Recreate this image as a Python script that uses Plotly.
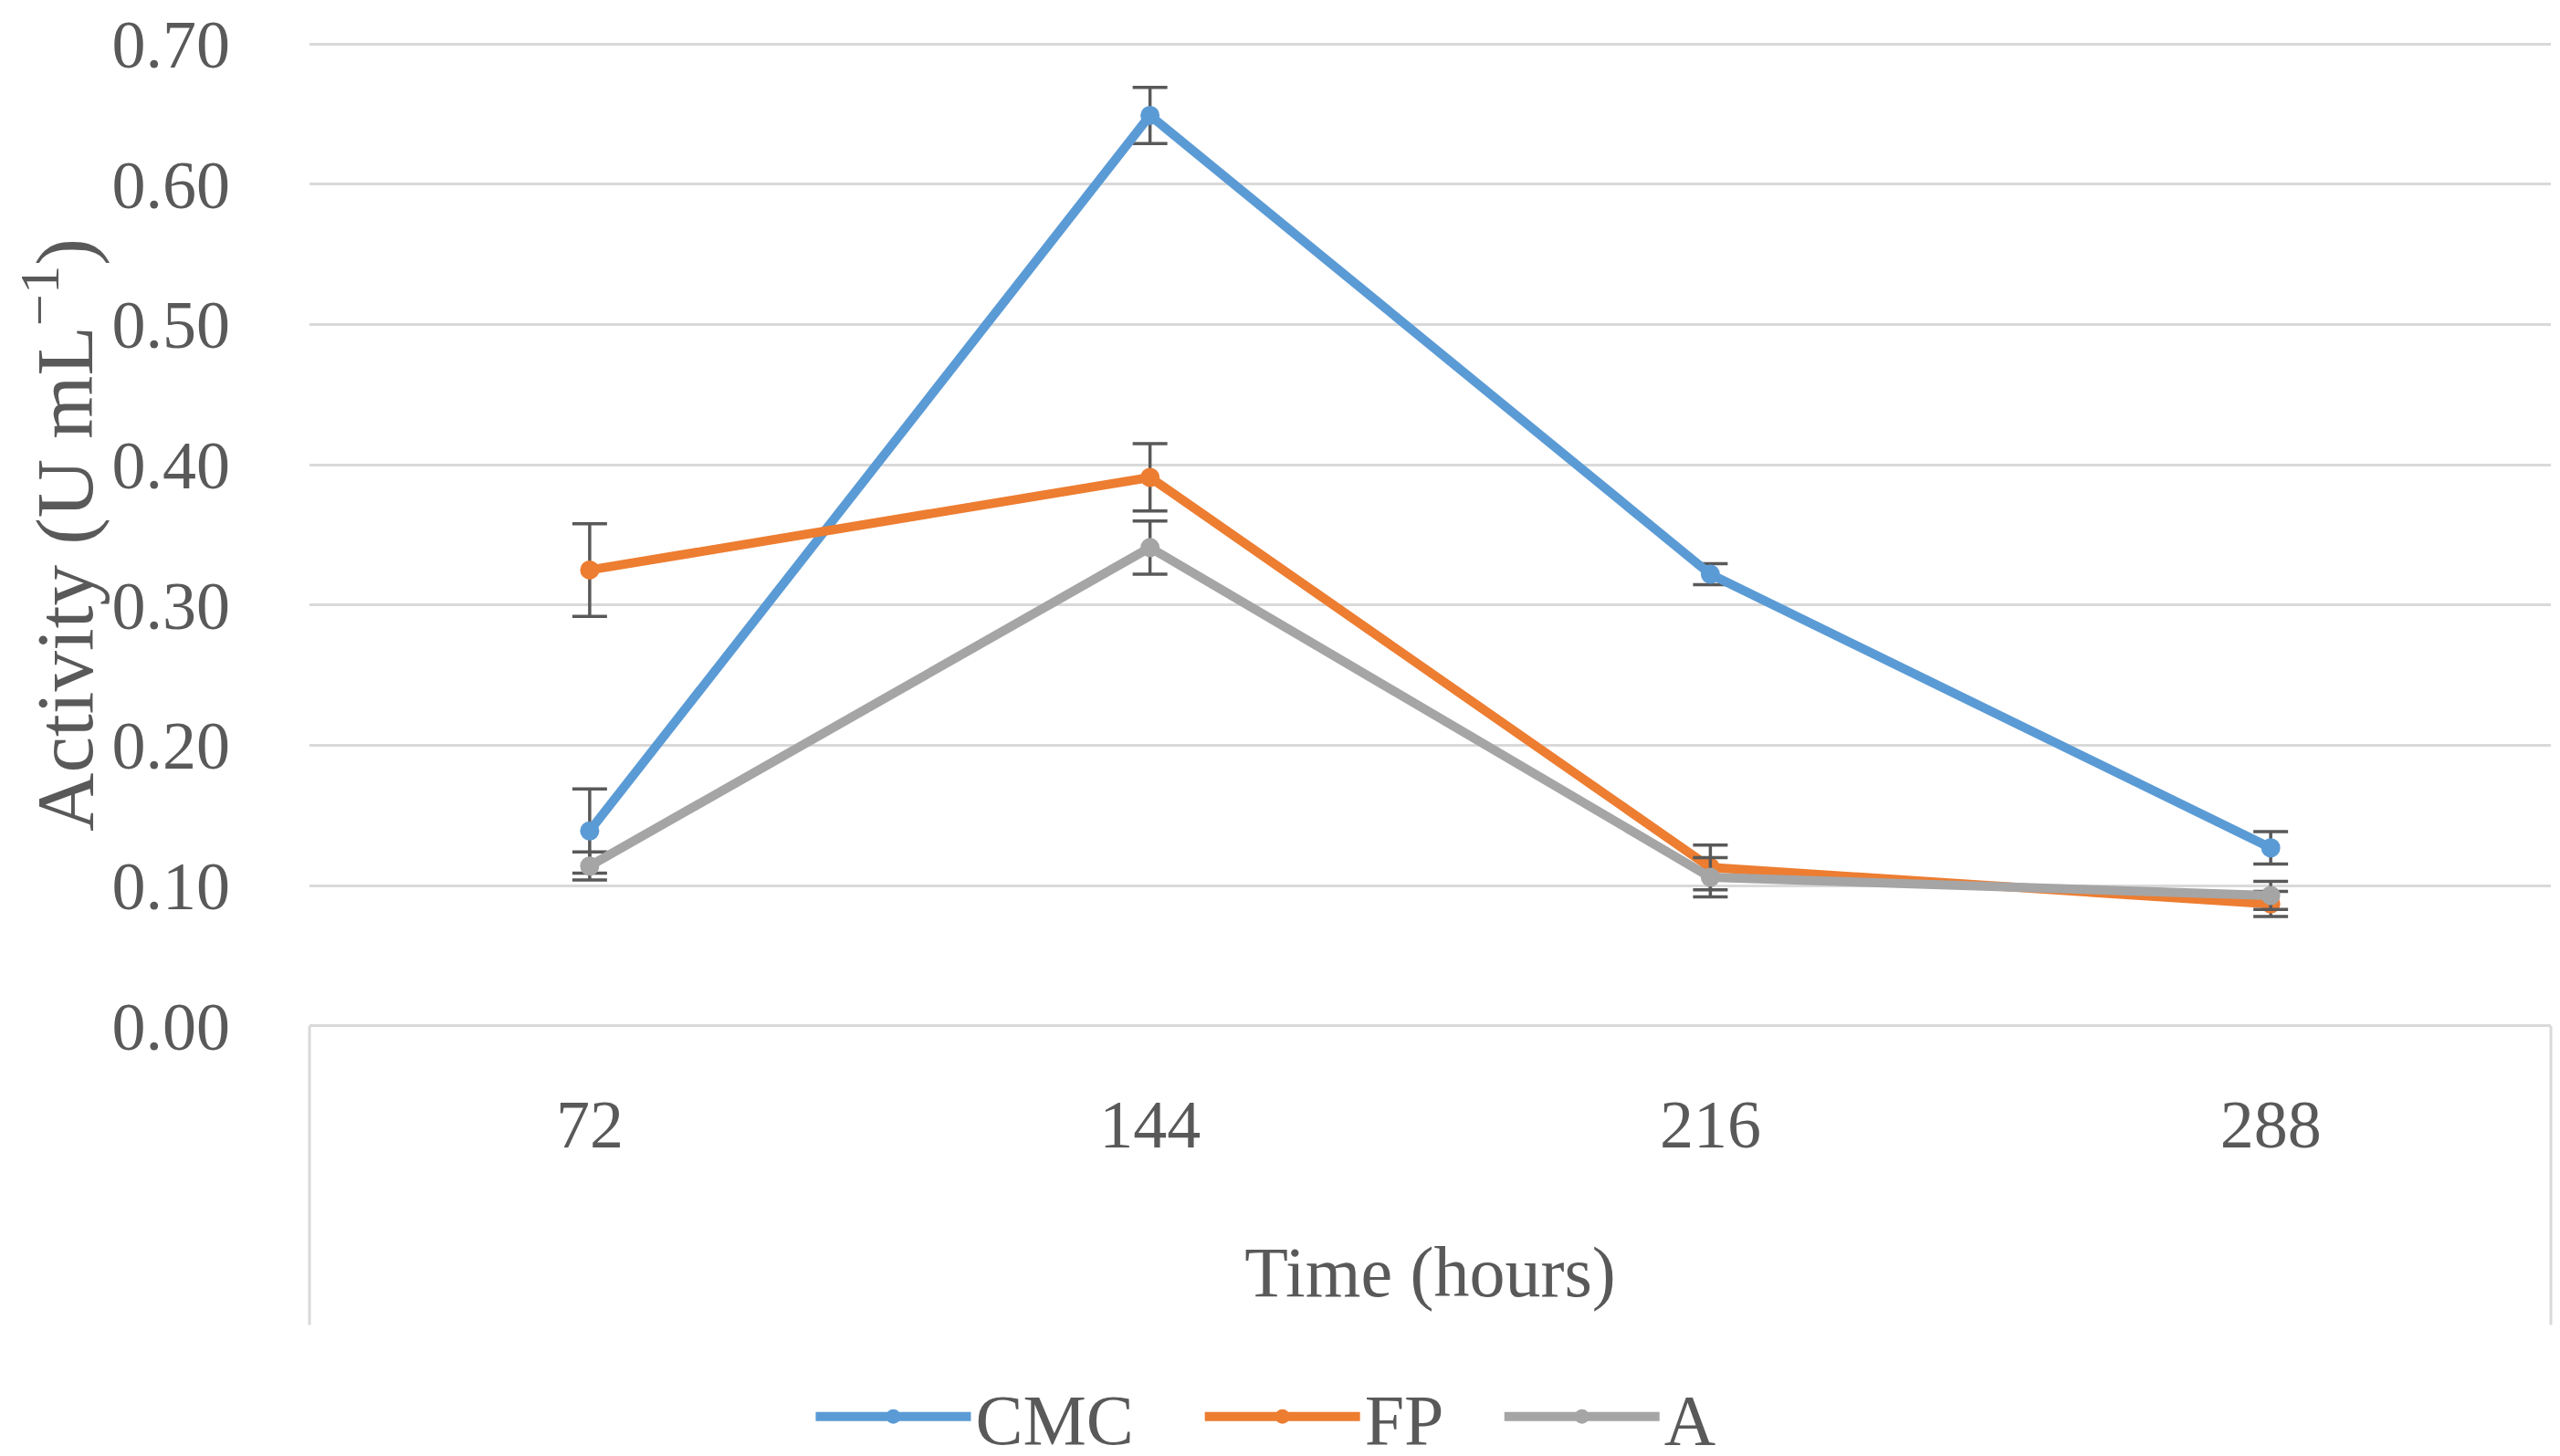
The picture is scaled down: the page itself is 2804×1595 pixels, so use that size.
import plotly.graph_objects as go

# ---- data ----
times = ["72", "144", "216", "288"]
cmc = [0.139, 0.649, 0.322, 0.127]
cmc_err = [0.030, 0.020, 0.0075, 0.0115]
fp = [0.325, 0.391, 0.113, 0.087]
fp_err = [0.033, 0.024, 0.016, 0.009]
a_vals = [0.114, 0.341, 0.106, 0.093]
a_err = [0.010, 0.019, 0.014, 0.010]
y_ticks = [0.0, 0.1, 0.2, 0.3, 0.4, 0.5, 0.6, 0.7]

FONT = "Liberation Serif"
TXT = "#595959"
series = [
    ("CMC", cmc, cmc_err, "#5b9bd5", "legend", 0.314),
    ("FP", fp, fp_err, "#ed7d31", "legend2", 0.466),
    ("A", a_vals, a_err, "#a5a5a5", "legend3", 0.583),
]

fig = go.Figure()
for name, vals, err, col, lg, _ in series:
    fig.add_trace(go.Scatter(
        x=times, y=vals, name=name, mode="lines+markers",
        legend=lg,
        line=dict(color=col, width=10),
        marker=dict(color=col, size=21),
        error_y=dict(type="data", array=err, visible=True,
                     color="#595959", thickness=3.5, width=19),
    ))

legend_common = dict(orientation="h", xref="container", yref="container",
                     xanchor="left", y=0.032, yanchor="middle",
                     font=dict(size=78, family=FONT, color=TXT),
                     itemwidth=170, bgcolor="rgba(0,0,0,0)")

fig.update_layout(
    width=2804, height=1595,
    paper_bgcolor="white", plot_bgcolor="white",
    margin=dict(l=331, r=18, t=37, b=476),
    font=dict(family=FONT, color=TXT, size=74),
    showlegend=True,
    legend=dict(x=series[0][5], **legend_common),
    legend2=dict(x=series[1][5], **legend_common),
    legend3=dict(x=series[2][5], **legend_common),
    xaxis=dict(
        type="category", range=[-0.5, 3.5],
        showgrid=False, showline=False, zeroline=False,
        ticks="", ticklabelstandoff=55,
        tickfont=dict(size=74, family=FONT, color=TXT),
        title=dict(text="Time (hours)", standoff=93,
                   font=dict(size=78, family=FONT, color=TXT)),
        automargin=False,
    ),
    yaxis=dict(
        range=[-0.002, 0.702], tickvals=y_ticks, tickformat=".2f",
        showgrid=True, gridcolor="#d9d9d9", gridwidth=3,
        zeroline=False, showline=False, ticks="",
        ticklabelstandoff=86, ticklabeloverflow="allow",
        tickfont=dict(size=74, family=FONT, color=TXT),
        title=dict(text="Activity (U mL<sup>−1</sup>)", standoff=68,
                   font=dict(size=89, family=FONT, color=TXT)),
        automargin=False,
    ),
)

# frame around the category-axis area (as in the original chart)
for xp in (0, 1):
    fig.add_shape(type="line", xref="paper", yref="paper",
                  x0=xp, x1=xp, y0=0.003, y1=-0.30,
                  line=dict(color="#d9d9d9", width=3))

fig.write_html("out.html")
